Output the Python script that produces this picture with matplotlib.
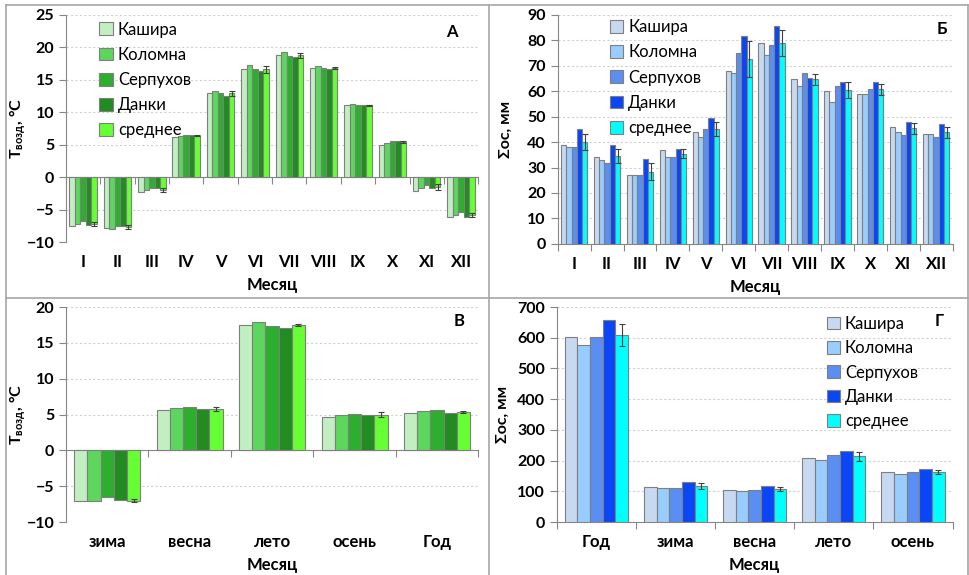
import numpy as np
import matplotlib.pyplot as plt
from matplotlib.lines import Line2D

plt.rcParams['font.family'] = ['Lato', 'DejaVu Sans']

stations = ['Кашира', 'Коломна', 'Серпухов', 'Данки', 'среднее']
months = ['I', 'II', 'III', 'IV', 'V', 'VI', 'VII', 'VIII', 'IX', 'X', 'XI', 'XII']
seasons_t = ['зима', 'весна', 'лето', 'осень', 'Год']
seasons_p = ['Год', 'зима', 'весна', 'лето', 'осень']

# температура воздуха по месяцам, °C (строки - станции)
temp_month = [
    [-7.5, -7.9, -2.3, 6.2, 13.0, 16.7, 18.8, 16.8, 11.2, 5.0, -2.2, -6.1],
    [-7.2, -8.0, -2.0, 6.4, 13.3, 17.3, 19.3, 17.1, 11.3, 5.3, -1.6, -5.8],
    [-6.8, -7.5, -1.6, 6.5, 13.0, 16.7, 18.7, 16.9, 11.2, 5.5, -1.2, -5.4],
    [-7.4, -7.5, -1.6, 6.5, 12.5, 16.3, 18.5, 16.6, 11.1, 5.5, -1.7, -6.1],
    [-7.2, -7.7, -2.0, 6.4, 12.9, 16.6, 18.8, 16.8, 11.1, 5.4, -1.5, -5.8],
]
temp_month_err = [0.3, 0.3, 0.3, 0.1, 0.4, 0.5, 0.4, 0.2, 0.1, 0.2, 0.4, 0.3]

# сумма осадков по месяцам, мм
prec_month = [
    [39.0, 34.1, 26.9, 36.8, 43.9, 68.0, 78.9, 64.7, 59.9, 59.0, 45.9, 43.0],
    [38.0, 32.9, 27.0, 34.0, 41.9, 67.1, 74.2, 62.0, 55.8, 59.0, 43.9, 43.0],
    [38.0, 31.8, 27.0, 34.0, 45.1, 75.1, 78.1, 67.0, 62.0, 60.8, 42.9, 42.0],
    [45.1, 38.8, 33.2, 37.4, 49.3, 81.8, 85.5, 65.4, 63.6, 63.6, 48.0, 47.2],
    [40.0, 34.6, 28.4, 35.5, 45.1, 72.6, 79.0, 64.7, 60.4, 60.7, 45.4, 43.9],
]
prec_month_err = [3.2, 2.7, 3.2, 1.9, 2.9, 7.1, 5.0, 2.1, 3.2, 2.1, 2.2, 2.1]

# температура по сезонам, °C
temp_season = [
    [-7.05, 5.6, 17.5, 4.7, 5.15],
    [-7.0, 5.9, 17.95, 5.0, 5.5],
    [-6.5, 6.0, 17.4, 5.1, 5.6],
    [-6.9, 5.8, 17.1, 4.95, 5.25],
    [-7.0, 5.8, 17.5, 5.0, 5.35],
]
temp_season_err = [0.2, 0.3, 0.1, 0.3, 0.15]

# осадки по сезонам и за год, мм
prec_season = [
    [601, 114, 105, 210, 164],
    [578, 112, 101, 201, 158],
    [603, 110, 105, 220, 164],
    [657, 130, 118, 232, 173],
    [609, 117, 107, 214, 164],
]
prec_season_err = [35, 9, 7, 14, 6]

greens = ['#c2efc2', '#5cd65c', '#2eae2e', '#228b22', '#66ff33']
blues = ['#c6d9f1', '#99ccff', '#5b8ef2', '#0a46f5', '#00ffff']


def draw_panel(ax, cats, values, errors, colors, ylim, yticks, ylabel, letter,
               label_x, letter_xy, legend_anchor=None, spacing=0.55):
    x = np.arange(len(cats))
    w = 0.16
    for i, (name, vals, col) in enumerate(zip(stations, values, colors)):
        ax.bar(x + (i - 2) * w, vals, w, color=col, edgecolor='#7f7f7f',
               linewidth=0.8, label=name, zorder=3)
    ax.errorbar(x + 2 * w, values[4], yerr=errors, fmt='none', ecolor='#404040',
                elinewidth=0.8, capsize=2.5, capthick=0.8, zorder=4)

    ax.set_xlim(-0.5, len(cats) - 0.5)
    ax.set_ylim(*ylim)
    ax.set_yticks(yticks)
    ax.set_xticks(np.arange(len(cats) + 1) - 0.5)
    ax.set_xticklabels([])
    ax.yaxis.grid(True, linestyle=(0, (2, 2)), color='#d0d0d0', linewidth=0.8)
    ax.set_axisbelow(True)

    for s in ['top', 'right']:
        ax.spines[s].set_visible(False)
    ax.spines['left'].set_color('#868686')
    ax.spines['bottom'].set_color('#868686')
    ax.spines['bottom'].set_position(('data', 0))
    ax.tick_params(axis='both', colors='#868686', length=5, width=0.8)
    ax.tick_params(axis='y', labelcolor='black', labelsize=11.5)
    for lab in ax.get_yticklabels():
        lab.set_fontweight('bold')

    # подписи категорий под областью графика
    for i, c in enumerate(cats):
        ax.annotate(c, xy=(i, 0), xycoords=('data', 'axes fraction'),
                    xytext=(0, -14.5), textcoords='offset points',
                    ha='center', va='center', fontsize=12, fontweight='bold')
    ax.annotate('Месяц', xy=(0.5, 0), xycoords='axes fraction',
                xytext=(0, -31), textcoords='offset points',
                ha='center', va='center', fontsize=12, fontweight='bold')

    ax.set_ylabel(ylabel, fontsize=11.5, fontweight='bold')
    ax.yaxis.set_label_coords(label_x, 0.5)
    ax.text(letter_xy[0], letter_xy[1], letter, transform=ax.transAxes,
            ha='center', va='center', fontsize=12, fontweight='bold')

    if legend_anchor is not None:
        ax.legend(loc='upper left', bbox_to_anchor=legend_anchor, frameon=False,
                  fontsize=12, handlelength=0.8, handleheight=0.8,
                  handletextpad=0.3, labelspacing=spacing, borderaxespad=0)


fig = plt.figure(figsize=(9.7, 5.75), dpi=100)

ax_a = fig.add_axes([0.068, 0.579, 0.425, 0.395])
draw_panel(ax_a, months, temp_month, temp_month_err, greens, (-10, 25),
           range(-10, 26, 5), r'T$_{\mathregular{возд}}$, °C', 'А',
           -0.092, (0.937, 0.925), legend_anchor=(0.065, 1.0))

ax_b = fig.add_axes([0.575, 0.576, 0.407, 0.398])
draw_panel(ax_b, months, prec_month, prec_month_err, blues, (0, 90),
           range(0, 91, 10), 'Σос, мм', 'Б',
           -0.114, (0.972, 0.939), legend_anchor=(0.115, 1.01))

ax_c = fig.add_axes([0.068, 0.092, 0.425, 0.374])
draw_panel(ax_c, seasons_t, temp_season, temp_season_err, greens, (-10, 20),
           range(-10, 21, 5), r'T$_{\mathregular{возд}}$, °C', 'В',
           -0.092, (0.954, 0.935))

ax_d = fig.add_axes([0.574, 0.092, 0.408, 0.374])
draw_panel(ax_d, seasons_p, prec_season, prec_season_err, blues, (0, 700),
           range(0, 701, 100), 'Σос, мм', 'Г',
           -0.119, (0.967, 0.935), legend_anchor=(0.665, 0.99), spacing=0.5)

# рамки вокруг четырёх панелей
W, H = 970, 575
frame = '#a6a6a6'
for (x0, y0, x1, y1) in [(6.5, 5, 6.5, 575), (489, 5, 489, 575), (968, 5, 968, 575),
                         (6.5, 5, 968, 5), (6.5, 298, 968, 298)]:
    fig.add_artist(Line2D([x0 / W, x1 / W], [1 - y0 / H, 1 - y1 / H],
                          color=frame, linewidth=1.2))

plt.savefig('out.png', dpi=100)
